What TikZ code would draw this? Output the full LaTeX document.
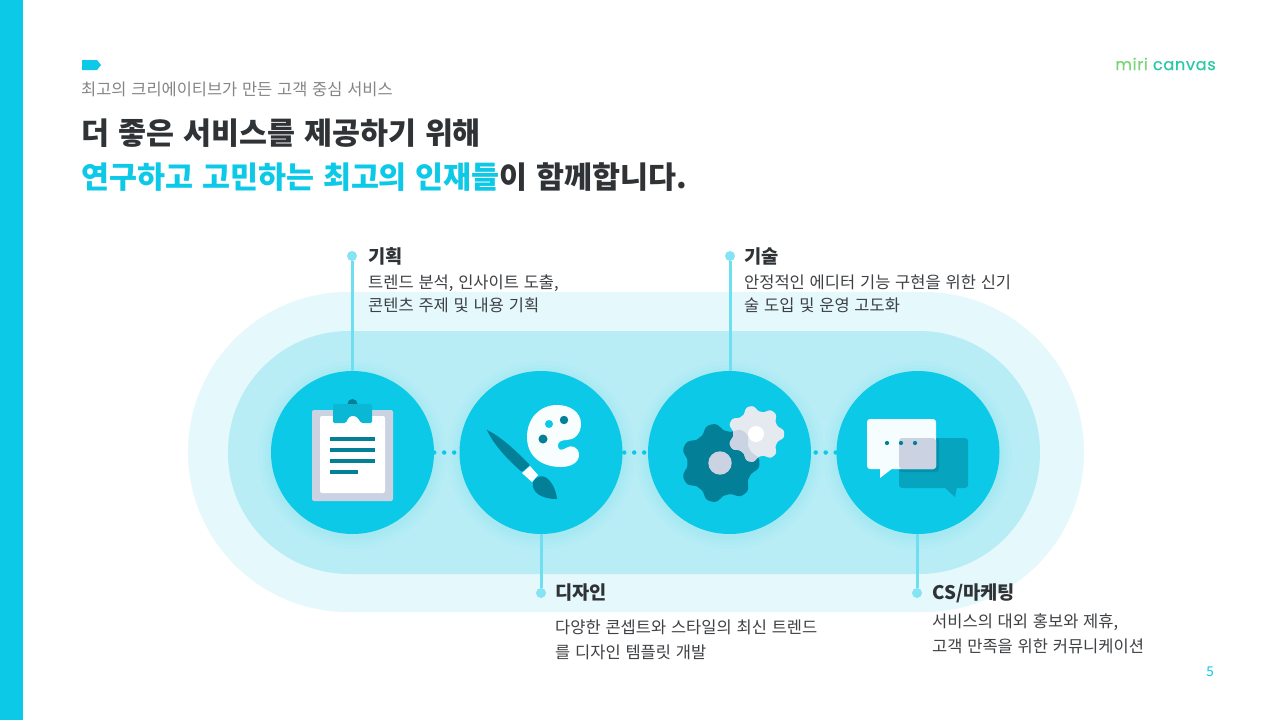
\documentclass[tikz,border=0pt]{standalone}
\usepackage{fontspec}
\setmainfont[WordSpace=1.3]{Noto Sans CJK KR}
\newfontfamily\logofont[LetterSpace=4,FakeBold=0.5]{Poppins}
\usepackage{xcolor}
\usetikzlibrary{arrows.meta, positioning}
\definecolor{miriCyan}{HTML}{0CC9E8}
\definecolor{bandOut}{HTML}{E5F8FC}
\definecolor{bandIn}{HTML}{B8EDF6}
\definecolor{iconDark}{HTML}{037F98}
\definecolor{iconGrey}{HTML}{CBD3E2}
\definecolor{inkDark}{HTML}{303336}
\definecolor{inkBody}{HTML}{3E4144}
\definecolor{logoGreen}{HTML}{78D67A}
\definecolor{logoTeal}{HTML}{2AC9A6}
\newcommand{\gearplot}[2]{plot [domain=0:360, samples=181, smooth] (\x: {#1 + #2*cos(7*\x) - 0.1*#2*cos(21*\x)})}
\tikzset{
	stage/.style={circle, fill=miriCyan, minimum size=163pt, inner sep=0pt},
	pin/.style={circle, fill=miriCyan!50!white, minimum size=10pt, inner sep=0pt},
	pinline/.style={draw=miriCyan!60!white, line width=3pt},
	linkdots/.style={draw=miriCyan, line width=4.5pt, line cap=round, dash pattern=on 0pt off 10pt},
	headtxt/.style={anchor=west, inner sep=0pt, font=\fontsize{18.7}{22}\selectfont\bfseries, text=inkDark},
	bodytxt/.style={anchor=north west, inner sep=0pt, align=left, font=\fontsize{16.5}{23}\selectfont, text=inkBody},
	bodywide/.style={bodytxt, font=\fontsize{16.5}{25}\selectfont},
	titletxt/.style={anchor=west, inner sep=0pt, font=\fontsize{30.4}{34}\selectfont\bfseries},
}
\begin{document}
\begin{tikzpicture}[x=1pt, y=-1pt]
	\useasboundingbox (0, 0) rectangle (1280, 720);
	\fill [white] (0, 0) rectangle (1280, 720);
	\fill [miriCyan] (0, 0) rectangle (23, 720);
	% header
	\fill [miriCyan] (82, 60) -- (97, 60) -- (101, 65) -- (97, 70) -- (82, 70) -- cycle;
	\node [anchor=west, inner sep=0pt, font=\fontsize{16.45}{18}\selectfont, text=black!48] (kicker) at (81, 89) {최고의 크리에이티브가 만든 고객 중심 서비스};
	\node [titletxt, text=inkDark] (titleA) at (81, 133) {더 좋은 서비스를 제공하기 위해};
	\node [titletxt, text=miriCyan] (titleB) at (81, 177) {연구하고 고민하는 최고의 인재들\textcolor{inkDark}{이 함께합니다.}};
	\node [anchor=east, inner sep=0pt, font=\logofont\fontsize{16.2}{20}\selectfont] (logo) at (1216, 64) {\textcolor{logoGreen}{miri} \textcolor{logoTeal}{canvas}};
	\node [inner sep=0pt, font=\fontsize{13.5}{15}\selectfont, text=miriCyan] (pageno) at (1210, 672) {5};
	% bands
	\fill [bandOut] (188, 292) [rounded corners=160pt] rectangle (1084, 612);
	\fill [bandIn] (228, 331) [rounded corners=121pt] rectangle (1040, 574);
	% soft glow round the circles
	\foreach \cx in {352.5, 541, 729.5, 918} {
		\foreach \rr in {94, 90, 87, 84}
			\fill [miriCyan, opacity=0.025] (\cx, 455) circle (\rr);
	}
	% circles
	\node [stage] (plan) at (352.5, 452.5) {};
	\node [stage] (design) at (541, 452.5) {};
	\node [stage] (tech) at (729.5, 452.5) {};
	\node [stage] (market) at (918, 452.5) {};
	\draw [linkdots] (plan) -- (design);
	\draw [linkdots, dash phase=-1.5] (design) -- (tech);
	\draw [linkdots, dash phase=-4.5] (tech) -- (market);
	% pins
	\node [pin] (pinPlan) at (352, 256) {};
	\node [pin] (pinDesign) at (541, 593) {};
	\node [pin] (pinTech) at (730, 256) {};
	\node [pin] (pinMarket) at (917, 593) {};
	\draw [pinline] (pinPlan) -- (pinPlan |- plan.north);
	\draw [pinline] (pinDesign) -- (pinDesign |- design.south);
	\draw [pinline] (pinTech) -- (pinTech |- tech.north);
	\draw [pinline] (pinMarket) -- (pinMarket |- market.south);
	% labels
	\node [headtxt] (headPlan) at (368, 256) {기획};
	\node [bodytxt] (bodyPlan) at (368, 274.5) {트렌드 분석, 인사이트 도출,\\콘텐츠 주제 및 내용 기획};
	\node [headtxt] (headTech) at (744, 256) {기술};
	\node [bodytxt] (bodyTech) at (744, 274.5) {안정적인 에디터 기능 구현을 위한 신기\\술 도입 및 운영 고도화};
	\node [headtxt] (headDesign) at (555, 593) {디자인};
	\node [bodywide] (bodyDesign) at (555, 619.5) {다양한 콘셉트와 스타일의 최신 트렌드\\를 디자인 템플릿 개발};
	\node [headtxt] (headMarket) at (932, 593) {CS/마케팅};
	\node [bodywide] (bodyMarket) at (932, 613.5) {서비스의 대외 홍보와 제휴,\\고객 만족을 위한 커뮤니케이션};
	% clipboard icon
	\fill [iconGrey, rounded corners=2pt] (312, 410) rectangle (393, 501);
	\fill [white, rounded corners=2pt] (320, 416) rectangle (385, 493);
	\fill [iconDark] (352.5, 404) circle (5);
	\fill [miriCyan!75!iconDark, rounded corners=1.5pt] (333, 404) -- (372, 404) -- (372, 423) -- (361, 423) .. controls (358, 418) and (356, 416) .. (353, 416) .. controls (350, 416) and (348, 418) .. (346, 423) -- (333, 423) -- cycle;
	\foreach \yy/\xe in {439/375, 450/375, 461/375, 472/358}
		\draw [iconDark, line width=4pt] (330, \yy) -- (\xe, \yy);
	% palette and brush icon
	\fill [white!97!miriCyan] (527, 437) .. controls (527, 418) and (540, 405) .. (557, 405) .. controls (570, 405) and (581, 412) .. (581, 424) .. controls (581, 434) and (574, 440) .. (567, 440) .. controls (561, 440) and (557, 442) .. (558, 447) .. controls (559, 451) and (563, 450) .. (566, 448) .. controls (571, 444) and (579, 447) .. (579, 455) .. controls (579, 463) and (570, 467) .. (561, 467) .. controls (541, 467) and (527, 456) .. (527, 437) -- cycle;
	\fill [miriCyan] (549, 424) circle (4);
	\fill [iconDark] (564, 420) circle (4.2);
	\fill [iconDark] (543, 439) circle (4.5);
	\fill [iconDark, rounded corners=1pt] (487, 430) .. controls (503, 438) and (518, 453) .. (530, 465) -- (522, 472) .. controls (508, 460) and (494, 445) .. (487, 430) -- cycle;
	\fill [white] (530, 466) -- (538, 475) -- (532, 482) -- (522, 473) -- cycle;
	\fill [iconDark] (533, 482) .. controls (536, 477) and (541, 475) .. (545, 477) .. controls (552, 481) and (556, 490) .. (557, 499) .. controls (549, 499) and (539, 497) .. (535, 491) .. controls (533, 488) and (532, 485) .. (533, 482) -- cycle;
	% gear icon
	\fill [iconDark, shift={(720, 463)}] \gearplot{36}{3.8} -- cycle;
	\fill [iconGrey!50!white, shift={(756, 434)}] \gearplot{25.5}{3} -- cycle;
	\begin{scope}
		\clip [shift={(720, 463)}] \gearplot{36}{3.8} -- cycle;
		\fill [iconGrey, shift={(756, 434)}] \gearplot{25.5}{3} -- cycle;
	\end{scope}
	\fill [iconGrey] (720, 463) circle (11.7);
	\fill [white] (756, 434) circle (8);
	% speech bubble icon
	\fill [iconDark!50!miriCyan, rounded corners=3pt] (899, 438) rectangle (968, 488);
	\fill [iconDark!50!miriCyan] (944, 487) -- (957, 487) -- (955, 497) -- cycle;
	\fill [iconDark, opacity=0.5, rounded corners=3pt] (899, 438) rectangle (939, 472);
	\fill [white!96!miriCyan, rounded corners=3pt] (867, 419) rectangle (936, 469);
	\fill [white!96!miriCyan] (880, 468) -- (893, 468) -- (880, 478) -- cycle;
	\fill [iconGrey, rounded corners=3pt] (899, 438) rectangle (936, 469);
	\foreach \dx in {887, 901, 915}
		\fill [iconDark] (\dx, 443) circle (2.1);
\end{tikzpicture}
\end{document}
